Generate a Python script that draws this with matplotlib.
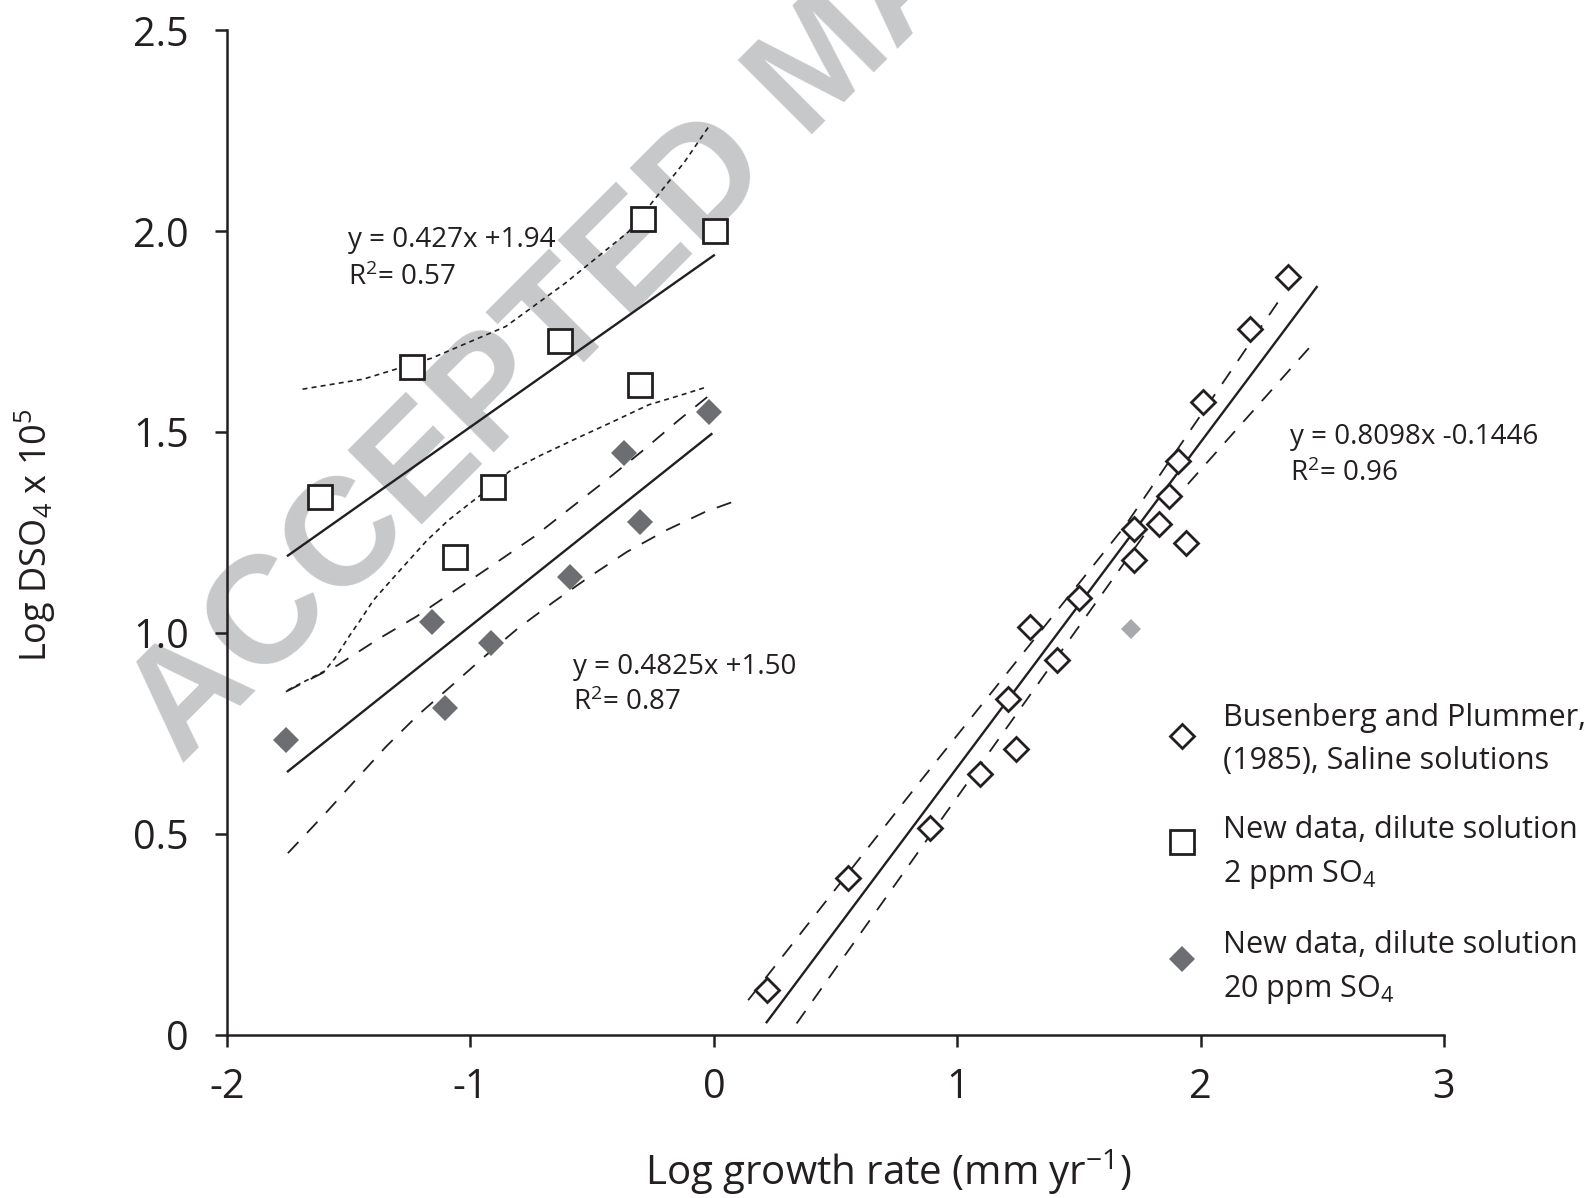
import matplotlib
matplotlib.use("Agg")
import numpy as np
import matplotlib.pyplot as plt
from matplotlib.lines import Line2D
from matplotlib.legend_handler import HandlerLine2D

plt.rcParams['font.family'] = ['Open Sans', 'DejaVu Sans']
plt.rcParams['axes.unicode_minus'] = False
plt.rcParams['lines.scale_dashes'] = False

INK = '#231f20'
DARK = '#6d6e71'
LIGHT = '#a7a9ac'

# Busenberg and Plummer (1985), saline solutions
sal_x = [0.217, 0.550, 0.888, 1.093, 1.210, 1.242, 1.300, 1.410, 1.499, 1.725,
         1.725, 1.827, 1.868, 1.909, 1.941, 2.011, 2.201, 2.359]
sal_y = [0.111, 0.391, 0.515, 0.649, 0.836, 0.711, 1.014, 0.934, 1.087, 1.260,
         1.181, 1.272, 1.340, 1.427, 1.224, 1.574, 1.756, 1.887]

# new data, 2 ppm SO4
sq_x = [-1.617, -1.240, -1.065, -0.907, -0.631, -0.305, -0.290, 0.003]
sq_y = [1.339, 1.661, 1.190, 1.364, 1.728, 1.617, 2.030, 2.001]

# new data, 20 ppm SO4
fd_x = [-1.758, -1.159, -1.105, -0.914, -0.591, -0.368, -0.305, -0.019]
fd_y = [0.734, 1.028, 0.813, 0.974, 1.139, 1.449, 1.277, 1.551]

# single light grey point
odd_x = [1.714]
odd_y = [1.009]

# fitted lines (slope, intercept, x range)
sq_fit = (0.427, 1.94, [-1.75, 0.0])
fd_fit = (0.4825, 1.50, [-1.75, -0.01])
sal_fit = (0.8098, -0.1446, [0.217, 2.477])

# confidence bands
sq_hi_x = [-1.69, -1.44, -1.16, -0.855, -0.61, -0.35, -0.235, -0.12, -0.016]
sq_hi_y = [1.607, 1.632, 1.684, 1.763, 1.871, 1.999, 2.086, 2.173, 2.265]
sq_lo_x = [-1.75, -1.60, -1.557, -1.535, -1.495, -1.457, -1.398, -1.325, -1.251,
           -1.178, -1.090, -1.002, -0.914, -0.841, -0.709, -0.562, -0.415,
           -0.268, -0.136, -0.026]
sq_lo_y = [0.858, 0.905, 0.937, 0.957, 0.995, 1.028, 1.082, 1.132, 1.182,
           1.231, 1.281, 1.323, 1.364, 1.402, 1.443, 1.485, 1.526, 1.568,
           1.592, 1.613]

fd_hi_x = [-1.758, -1.545, -1.384, -1.222, -1.061, -0.899, -0.738, -0.591,
           -0.437, -0.298, -0.144, -0.026]
fd_hi_y = [0.854, 0.920, 0.983, 1.041, 1.107, 1.173, 1.240, 1.310, 1.383,
           1.451, 1.530, 1.588]
fd_lo_x = [-1.750, -1.596, -1.472, -1.347, -1.215, -1.083, -0.943, -0.804,
           -0.657, -0.511, -0.357, -0.195, -0.034, 0.099]
fd_lo_y = [0.452, 0.551, 0.634, 0.717, 0.796, 0.866, 0.941, 1.012, 1.078,
           1.140, 1.202, 1.256, 1.302, 1.331]

sal_hi_x = [0.141, 0.847, 1.690, 2.344]
sal_hi_y = [0.086, 0.630, 1.267, 1.847]
sal_lo_x = [0.340, 0.943, 1.795, 2.461]
sal_lo_y = [0.028, 0.543, 1.267, 1.720]

xticks = [-2, -1, 0, 1, 2, 3]
xticklabels = ['-2', '-1', '0', '1', '2', '3']
yticks = [0, 0.5, 1.0, 1.5, 2.0, 2.5]
yticklabels = ['0', '0.5', '1.0', '1.5', '2.0', '2.5']


class RaisedHandler(HandlerLine2D):
    # legend marker nudged up so it sits level with the two-line label
    def __init__(self, lift, **kw):
        super().__init__(**kw)
        self.lift = lift

    def create_artists(self, legend, orig_handle, xdescent, ydescent,
                       width, height, fontsize, trans):
        arts = super().create_artists(legend, orig_handle, xdescent, ydescent,
                                      width, height, fontsize, trans)
        for a in arts:
            a.set_ydata(np.asarray(a.get_ydata()) + self.lift)
        return arts


fig = plt.figure(figsize=(15.9, 11.98), dpi=100)
ax = fig.add_axes([0.1428, 0.1363, 0.7654, 0.8383])
ax.set_facecolor('none')

# watermark
ax.text(0.1142, 0.3609, 'ACCEPTED MANUSCRIPT', transform=fig.transFigure,
        rotation=45, rotation_mode='anchor', ha='left', va='baseline',
        fontsize=110, fontweight='bold', family='Liberation Sans',
        color='#c7c8ca', zorder=0.5, clip_on=False)

short_dash = (0, (3.6, 3.0))
long_dash = (0, (11, 9))

# fitted lines
for slope, icpt, xr in (sq_fit, fd_fit, sal_fit):
    xs = np.array(xr)
    ax.plot(xs, slope * xs + icpt, color=INK, lw=1.7, zorder=2)

# bands
ax.plot(sq_hi_x, sq_hi_y, color=INK, lw=1.2, ls=short_dash, zorder=2)
ax.plot(sq_lo_x, sq_lo_y, color=INK, lw=1.2, ls=short_dash, zorder=2)
for bx, by in ((fd_hi_x, fd_hi_y), (fd_lo_x, fd_lo_y),
               (sal_hi_x, sal_hi_y), (sal_lo_x, sal_lo_y)):
    ax.plot(bx, by, color=INK, lw=1.3, ls=long_dash, zorder=2)

# points
ax.plot(sal_x, sal_y, ls='none', marker='D', ms=12, mfc='white', mec=INK,
        mew=2.0, zorder=3)
ax.plot(sq_x, sq_y, ls='none', marker='s', ms=17, mfc='white', mec=INK,
        mew=2.0, zorder=3)
ax.plot(fd_x, fd_y, ls='none', marker='D', ms=13.5, mfc=DARK, mec=DARK,
        mew=0, zorder=3)
ax.plot(odd_x, odd_y, ls='none', marker='D', ms=10.5, mfc=LIGHT, mec=LIGHT,
        mew=0, zorder=3)

# equations
eq_kw = dict(fontsize=20, color=INK, ha='left', va='baseline', zorder=4)
ax.text(-1.504, 1.960, 'y = 0.427x +1.94', **eq_kw)
ax.text(-1.504, 1.866, r'R$\mathregular{^2}$= 0.57', **eq_kw)
ax.text(-0.579, 0.899, 'y = 0.4825x +1.50', **eq_kw)
ax.text(-0.579, 0.808, r'R$\mathregular{^2}$= 0.87', **eq_kw)
ax.text(2.367, 1.470, 'y = 0.8098x -0.1446', **eq_kw)
ax.text(2.367, 1.379, r'R$\mathregular{^2}$= 0.96', **eq_kw)

# axes styling
ax.set_xlim(-2, 3)
ax.set_ylim(0, 2.5)
ax.set_xticks(xticks)
ax.set_xticklabels(xticklabels)
ax.set_yticks(yticks)
ax.set_yticklabels(yticklabels)
for side in ('top', 'right'):
    ax.spines[side].set_visible(False)
for side in ('left', 'bottom'):
    ax.spines[side].set_linewidth(1.8)
    ax.spines[side].set_color(INK)
ax.tick_params(direction='out', length=8.6, width=1.8, color=INK,
               labelsize=28.5, labelcolor=INK)
ax.tick_params(axis='x', pad=15)
ax.tick_params(axis='y', pad=19)

ax.set_xlabel(r'Log growth rate (mm yr$\mathregular{^{-1}}$)', fontsize=29,
              color=INK)
ax.xaxis.set_label_coords(0.543, -0.112)
ax.set_ylabel(r'Log DSO$\mathregular{_4}$ x 10$\mathregular{^5}$', fontsize=26,
              color=INK)
ax.yaxis.set_label_coords(-0.139, 0.4976)

# legend
handles = [
    Line2D([], [], ls='none', marker='D', ms=12, mfc='white', mec=INK, mew=2.0),
    Line2D([], [], ls='none', marker='s', ms=17, mfc='white', mec=INK, mew=2.0),
    Line2D([], [], ls='none', marker='D', ms=13.5, mfc=DARK, mec=DARK, mew=0),
]
labels = [
    'Busenberg and Plummer,\n(1985), Saline solutions',
    'New data, dilute solution\n' + r'2 ppm SO$\mathregular{_4}$',
    'New data, dilute solution\n' + r'20 ppm SO$\mathregular{_4}$',
]
lifts = [2.7, 8.3, 7.0]
leg = ax.legend(handles, labels, loc='upper left',
                bbox_to_anchor=(0.734, 0.4132), bbox_transform=fig.transFigure,
                frameon=False, fontsize=22, handlelength=1.0,
                handletextpad=0.82, labelspacing=1.28, borderpad=0,
                borderaxespad=0,
                handler_map={h: RaisedHandler(l) for h, l in zip(handles, lifts)})
for t in leg.get_texts():
    t.set_linespacing(1.55)
    t.set_color(INK)

fig.savefig('out.png', dpi=100)
